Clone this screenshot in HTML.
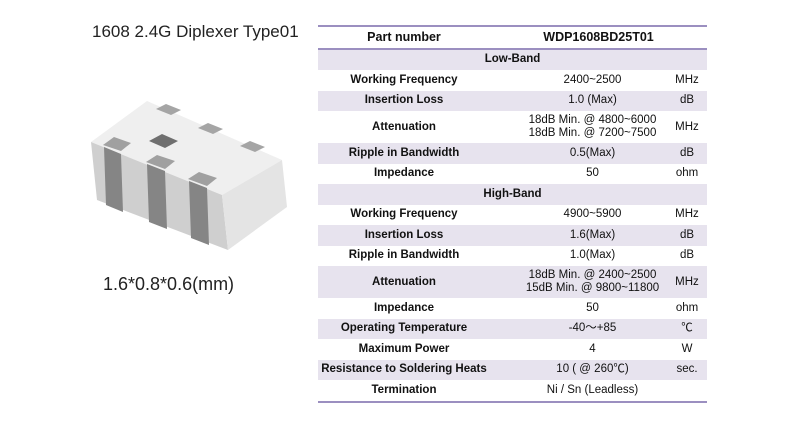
<!DOCTYPE html>
<html><head><meta charset="utf-8"><style>
body{margin:0;width:800px;height:425px;background:#fff;position:relative;font-family:"Liberation Sans","Noto Sans CJK SC",sans-serif;overflow:hidden}
.t{position:absolute;color:#222;white-space:nowrap}
table{position:absolute;left:318px;top:25px;width:389px;border-collapse:collapse;font-size:11.5px;color:#111;border-top:2px solid #9b8fc0;border-bottom:2px solid #9b8fc0;table-layout:fixed}
td{text-align:center;padding:0;height:20.5px;line-height:13px;white-space:nowrap}
td.l{font-weight:bold}
td.v{padding-left:28px}
tr.s td{background:#e7e3ee}
tr.h td{font-weight:bold;font-size:12.5px;border-bottom:2px solid #9b8fc0}
tr.tall td{height:32px}
</style></head><body>
<div class="t" style="left:92px;top:22px;font-size:17px">1608 2.4G Diplexer Type01</div>
<div class="t" style="left:103px;top:274px;font-size:18px">1.6*0.8*0.6(mm)</div>
<svg style="position:absolute;left:0;top:0" width="310" height="425">
<polygon points="91,142 147,101 282,160 222,195" fill="#efefef"/>
<polygon points="91,142 222,195 228,250 97,200" fill="#cfcfcf"/>
<polygon points="222,195 282,160 287,207 228,250" fill="#e4e4e4"/>
<polygon points="104,147 121,154 123,212 106,205" fill="#858585"/>
<polygon points="147,164 165,171 167,229 149,222" fill="#858585"/>
<polygon points="189,181 207,188 209,245 191,238" fill="#858585"/>
<polygon points="103,145 114,137 131,143 121,151" fill="#a0a0a0"/>
<polygon points="146,162 157,155 175,161 165,169" fill="#a0a0a0"/>
<polygon points="188,179 199,172 217,178 207,186" fill="#a0a0a0"/>
<polygon points="156,109 166,104 181,110 171,115" fill="#a5a5a5"/>
<polygon points="198,128 208,123 223,129 213,134" fill="#a5a5a5"/>
<polygon points="240,146 250,141 265,147 255,152" fill="#a5a5a5"/>
<polygon points="149,141 162,134 178,141 165,148" fill="#6f6f6f"/>
</svg>
<table>
<colgroup><col style="width:172px"><col style="width:177px"><col style="width:40px"></colgroup>
<tr class="h"><td class="l">Part number</td><td class="v" colspan="2" style="padding-left:0">WDP1608BD25T01</td></tr>
<tr class="s"><td colspan="3" style="font-weight:bold">Low-Band</td></tr>
<tr><td class="l">Working Frequency</td><td class="v">2400~2500</td><td>MHz</td></tr>
<tr class="s"><td class="l">Insertion Loss</td><td class="v">1.0 (Max)</td><td>dB</td></tr>
<tr class="tall"><td class="l">Attenuation</td><td class="v">18dB Min. @ 4800~6000<br>18dB Min. @ 7200~7500</td><td>MHz</td></tr>
<tr class="s"><td class="l">Ripple in Bandwidth</td><td class="v">0.5(Max)</td><td>dB</td></tr>
<tr><td class="l">Impedance</td><td class="v">50</td><td>ohm</td></tr>
<tr class="s"><td colspan="3" style="font-weight:bold">High-Band</td></tr>
<tr><td class="l">Working Frequency</td><td class="v">4900~5900</td><td>MHz</td></tr>
<tr class="s"><td class="l">Insertion Loss</td><td class="v">1.6(Max)</td><td>dB</td></tr>
<tr><td class="l">Ripple in Bandwidth</td><td class="v">1.0(Max)</td><td>dB</td></tr>
<tr class="s tall"><td class="l">Attenuation</td><td class="v">18dB Min. @ 2400~2500<br>15dB Min. @ 9800~11800</td><td>MHz</td></tr>
<tr><td class="l">Impedance</td><td class="v">50</td><td>ohm</td></tr>
<tr class="s"><td class="l">Operating Temperature</td><td class="v">-40～+85</td><td>℃</td></tr>
<tr><td class="l">Maximum Power</td><td class="v">4</td><td>W</td></tr>
<tr class="s"><td class="l">Resistance to Soldering Heats</td><td class="v">10 ( @ 260℃)</td><td>sec.</td></tr>
<tr><td class="l">Termination</td><td class="v">Ni / Sn (Leadless)</td><td></td></tr>
</table>
</body></html>
